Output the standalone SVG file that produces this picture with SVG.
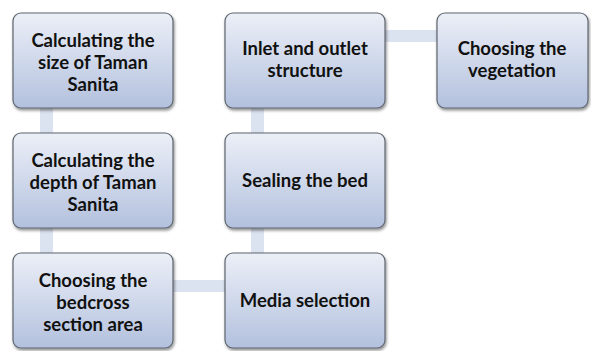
<svg xmlns="http://www.w3.org/2000/svg" width="591" height="351" viewBox="0 0 591 351">
<defs>
<linearGradient id="g" x1="0" y1="0" x2="0" y2="1">
<stop offset="0" stop-color="#eceff7"/>
<stop offset="1" stop-color="#b3c1de"/>
</linearGradient>
<filter id="sh" x="-10%" y="-10%" width="125%" height="130%">
<feGaussianBlur in="SourceAlpha" stdDeviation="1.5"/>
<feOffset dx="1" dy="2" result="b"/>
<feComponentTransfer><feFuncA type="linear" slope="0.45"/></feComponentTransfer>
<feMerge><feMergeNode/><feMergeNode in="SourceGraphic"/></feMerge>
</filter>
</defs>
<style>
.box{fill:url(#g);stroke:#5f6670;stroke-width:1.2;filter:url(#sh)}
.c{fill:#dce3f0}
text{font-family:"Lato","Open Sans","Liberation Sans",sans-serif;font-weight:bold;font-size:18.5px;fill:#111;text-anchor:middle}
</style>
<rect width="591" height="351" fill="#fff"/>
<g id="connectors">
<rect class="c" x="40" y="108" width="13" height="26"/>
<rect class="c" x="40" y="228" width="13" height="26"/>
<rect class="c" x="173" y="280" width="53" height="12"/>
<rect class="c" x="251" y="228" width="13" height="26"/>
<rect class="c" x="251" y="108" width="13" height="26"/>
<rect class="c" x="385" y="30" width="53" height="12"/>
</g>
<g id="n1"><rect class="box" x="13" y="13" width="160" height="95" rx="8"/>
<text x="93" y="47">Calculating the</text><text x="93" y="69">size of Taman</text><text x="93" y="91">Sanita</text></g>
<g id="n2"><rect class="box" x="13" y="133" width="160" height="95" rx="8"/>
<text x="93" y="167">Calculating the</text><text x="93" y="189">depth of Taman</text><text x="93" y="211">Sanita</text></g>
<g id="n3"><rect class="box" x="13" y="253" width="160" height="95" rx="8"/>
<text x="93" y="287">Choosing the</text><text x="93" y="309">bedcross</text><text x="93" y="331">section area</text></g>
<g id="n4"><rect class="box" x="225" y="253" width="160" height="95" rx="8"/>
<text x="305" y="307">Media selection</text></g>
<g id="n5"><rect class="box" x="225" y="133" width="160" height="95" rx="8"/>
<text x="305" y="187">Sealing the bed</text></g>
<g id="n6"><rect class="box" x="225" y="13" width="160" height="95" rx="8"/>
<text x="305" y="55">Inlet and outlet</text><text x="305" y="77">structure</text></g>
<g id="n7"><rect class="box" x="437" y="13" width="151" height="95" rx="8"/>
<text x="512" y="55">Choosing the</text><text x="512" y="77">vegetation</text></g>
</svg>
